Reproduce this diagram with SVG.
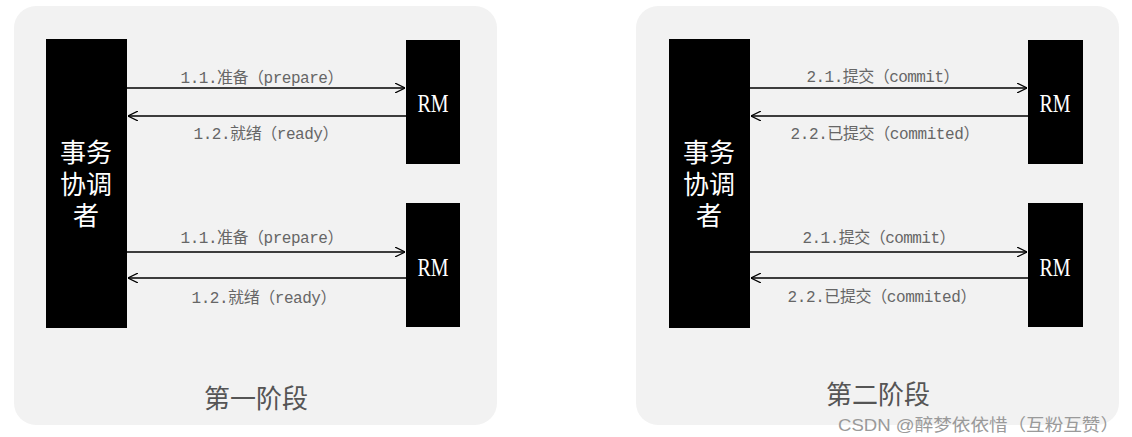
<svg xmlns="http://www.w3.org/2000/svg" width="1132" height="437" viewBox="0 0 1132 437">
<style>
.panel{fill:#f2f2f2}
.box{fill:#000}
.conn line{stroke:#000;stroke-width:1.3}
.lbl{font-family:"Liberation Mono","Noto Sans CJK SC",monospace;font-size:16px;fill:#666;text-anchor:middle}
.coord{font-family:"Liberation Serif","Noto Sans CJK SC",serif;font-size:26px;fill:#fff;text-anchor:middle}
.rm{font-family:"Liberation Serif",serif;font-size:25px;fill:#fff;text-anchor:middle}
.stage{font-family:"Liberation Serif","Noto Sans CJK SC",serif;font-size:26px;fill:#555;text-anchor:middle}
.wm{font-family:"Liberation Sans","Noto Sans CJK SC",sans-serif;font-size:17px;fill:#9a9a9a}
</style>
<defs>
<marker id="ah" viewBox="0 0 10 10" refX="10" refY="5" markerWidth="10" markerHeight="10" markerUnits="userSpaceOnUse" orient="auto">
<path d="M0,0 L10,5 L0,10" fill="none" stroke="#000" stroke-width="1.2"/>
</marker>
</defs>
<rect class="panel" x="14" y="6" width="483" height="419" rx="22"/>
<rect class="panel" x="636" y="6" width="483" height="419" rx="22"/>

<g id="coord1"><rect class="box" x="46" y="39" width="81" height="289"/>
<text class="coord" x="86" y="162">事务</text><text class="coord" x="86" y="194">协调</text><text class="coord" x="86" y="225">者</text></g>
<g id="rm1a"><rect class="box" x="406" y="40" width="54" height="124"/><text class="rm" transform="translate(433,112) scale(0.8,1)">RM</text></g>
<g id="rm1b"><rect class="box" x="406" y="203" width="54" height="124"/><text class="rm" transform="translate(433,276) scale(0.8,1)">RM</text></g>

<g id="coord2"><rect class="box" x="669" y="39" width="81" height="289"/>
<text class="coord" x="709" y="162">事务</text><text class="coord" x="709" y="194">协调</text><text class="coord" x="709" y="225">者</text></g>
<g id="rm2a"><rect class="box" x="1028" y="40" width="55" height="124"/><text class="rm" transform="translate(1055,112) scale(0.8,1)">RM</text></g>
<g id="rm2b"><rect class="box" x="1028" y="203" width="55" height="124"/><text class="rm" transform="translate(1055,276) scale(0.8,1)">RM</text></g>

<g id="connectors" class="conn">
<line x1="127" y1="88" x2="405" y2="88" marker-end="url(#ah)"/>
<line x1="406" y1="116" x2="128" y2="116" marker-end="url(#ah)"/>
<line x1="127" y1="252" x2="405" y2="252" marker-end="url(#ah)"/>
<line x1="406" y1="278" x2="128" y2="278" marker-end="url(#ah)"/>
<line x1="750" y1="88" x2="1027" y2="88" marker-end="url(#ah)"/>
<line x1="1028" y1="116" x2="751" y2="116" marker-end="url(#ah)"/>
<line x1="750" y1="252" x2="1027" y2="252" marker-end="url(#ah)"/>
<line x1="1028" y1="278" x2="751" y2="278" marker-end="url(#ah)"/>
</g>

<g id="labels">
<text class="lbl" x="262" y="83" textLength="163" lengthAdjust="spacing">1.1.准备（prepare）</text>
<text class="lbl" x="266" y="139" textLength="145" lengthAdjust="spacing">1.2.就绪（ready）</text>
<text class="lbl" x="262" y="243" textLength="163" lengthAdjust="spacing">1.1.准备（prepare）</text>
<text class="lbl" x="264" y="303" textLength="145" lengthAdjust="spacing">1.2.就绪（ready）</text>
<text class="lbl" x="883" y="82" textLength="153" lengthAdjust="spacing">2.1.提交（commit）</text>
<text class="lbl" x="885" y="139" textLength="189" lengthAdjust="spacing">2.2.已提交（commited）</text>
<text class="lbl" x="879" y="243" textLength="153" lengthAdjust="spacing">2.1.提交（commit）</text>
<text class="lbl" x="882" y="302" textLength="189" lengthAdjust="spacing">2.2.已提交（commited）</text>
</g>

<text class="stage" x="256" y="408">第一阶段</text>
<text class="stage" x="878" y="404">第二阶段</text>
<text class="wm" x="838" y="431" textLength="281" lengthAdjust="spacingAndGlyphs">CSDN @醉梦依依惜（互粉互赞）</text>
</svg>
